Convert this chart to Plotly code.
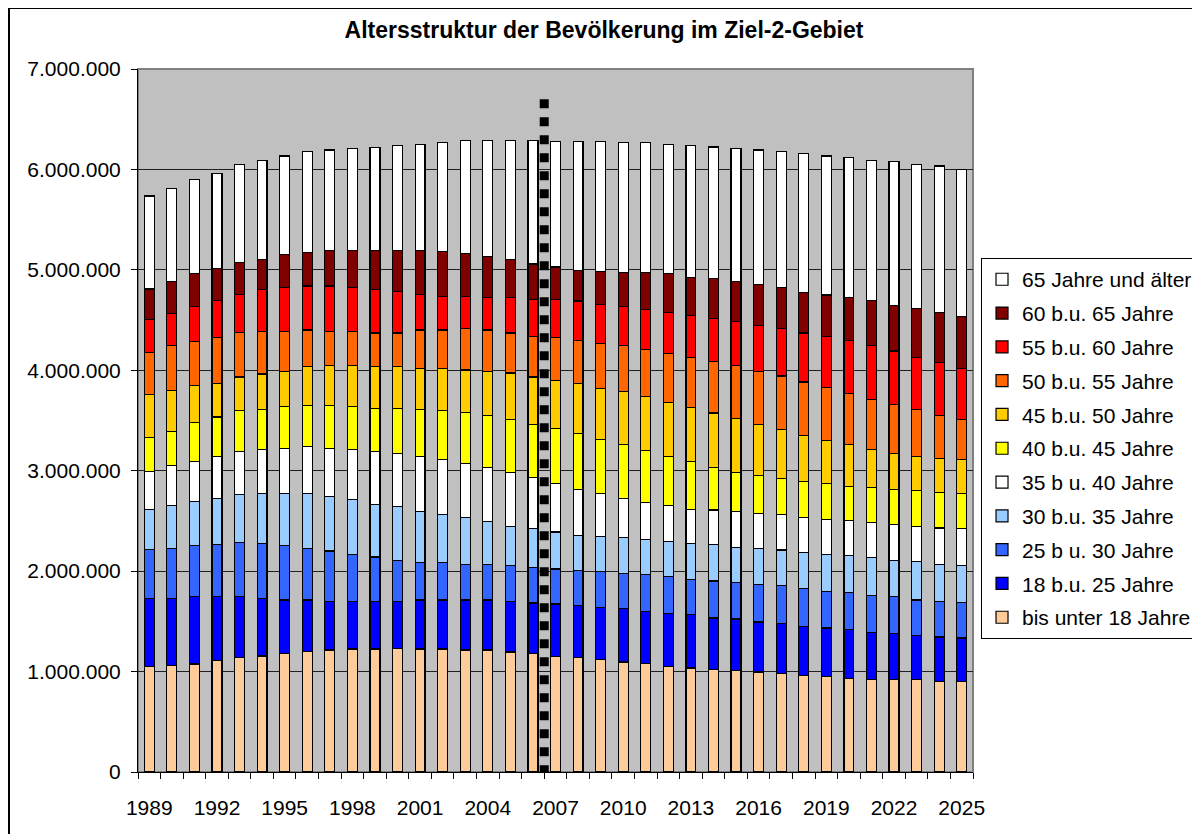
import plotly.graph_objects as go

# ---- data (values in thousands of persons) ----
years = list(range(1989, 2026))
tick_years = [1989, 1992, 1995, 1998, 2001, 2004, 2007, 2010, 2013, 2016, 2019, 2022, 2025]

under_18 = [1048, 1061, 1075, 1108, 1138, 1155, 1177, 1197, 1214, 1224, 1224, 1227, 1224,
            1224, 1214, 1214, 1194, 1177, 1151, 1138, 1124, 1095, 1078, 1051, 1035, 1018,
            1008, 995, 978, 961, 949, 932, 919, 919, 919, 902, 902]
age_18_25 = [677, 664, 670, 637, 607, 570, 535, 515, 484, 474, 474, 471, 488,
             488, 498, 498, 504, 505, 521, 516, 514, 530, 517, 531, 532, 515,
             515, 498, 501, 485, 484, 488, 470, 458, 441, 442, 432]
age_25_30 = [488, 501, 507, 524, 537, 547, 543, 514, 502, 465, 442, 412, 371,
             371, 351, 351, 355, 354, 349, 353, 356, 349, 369, 365, 347, 368,
             364, 378, 382, 381, 364, 364, 369, 368, 352, 354, 351]
age_30_35 = [398, 425, 445, 458, 485, 498, 515, 544, 543, 547, 527, 531, 511,
             481, 471, 428, 392, 386, 368, 348, 351, 358, 348, 352, 364, 368,
             352, 355, 349, 356, 369, 369, 378, 365, 381, 365, 368]
age_35_40 = [381, 398, 395, 411, 428, 441, 455, 471, 482, 501, 521, 530, 547,
             544, 541, 541, 534, 514, 487, 458, 425, 395, 371, 355, 339, 339,
             352, 348, 351, 355, 352, 348, 349, 351, 352, 366, 369]
age_40_45 = [342, 338, 388, 396, 401, 395, 411, 412, 428, 425, 434, 451, 465,
             488, 504, 517, 528, 526, 542, 561, 544, 534, 518, 484, 475, 424,
             395, 375, 358, 351, 355, 342, 344, 352, 358, 354, 348]
age_45_50 = [421, 408, 365, 338, 338, 358, 351, 384, 397, 414, 415, 415, 411,
             421, 424, 438, 467, 472, 480, 498, 508, 524, 537, 545, 537, 543,
             533, 514, 488, 458, 427, 415, 382, 355, 335, 338, 338]
age_50_55 = [425, 448, 438, 458, 441, 421, 398, 364, 335, 335, 335, 335, 384,
             384, 412, 414, 398, 406, 432, 425, 445, 458, 472, 481, 499, 509,
             531, 524, 537, 537, 526, 507, 499, 493, 471, 428, 399]
age_55_60 = [322, 319, 351, 361, 383, 418, 438, 439, 455, 438, 431, 414, 352,
             336, 322, 322, 351, 366, 376, 392, 387, 391, 398, 414, 416, 434,
             437, 460, 471, 488, 514, 532, 533, 532, 519, 528, 510]
age_60_65 = [308, 321, 326, 325, 318, 300, 326, 336, 351, 368, 388, 405, 438,
             442, 429, 413, 383, 353, 323, 308, 333, 339, 365, 382, 383, 399,
             400, 410, 412, 406, 409, 426, 450, 455, 490, 501, 518]
age_65_plus = [926, 930, 942, 942, 972, 988, 985, 1001, 1002, 1016, 1030, 1046, 1060,
               1092, 1125, 1155, 1185, 1232, 1251, 1283, 1293, 1294, 1294, 1291, 1310, 1307,
               1320, 1336, 1353, 1384, 1385, 1398, 1398, 1430, 1430, 1457, 1467]

series_names = ["bis unter 18 Jahre", "18 b.u. 25 Jahre", "25 b u. 30 Jahre",
                "30 b.u. 35 Jahre", "35 b u. 40 Jahre", "40 b.u. 45 Jahre",
                "45 b.u. 50 Jahre", "50 b.u. 55 Jahre", "55 b.u. 60 Jahre",
                "60 b.u. 65 Jahre", "65 Jahre und älter"]
series_values = [under_18, age_18_25, age_25_30, age_30_35, age_35_40, age_40_45,
                 age_45_50, age_50_55, age_55_60, age_60_65, age_65_plus]
series_colors = ["#FFCC99", "#0000FF", "#3366FF", "#99CCFF", "#FFFFFF", "#FFFF00",
                 "#FFCC00", "#FF6600", "#FF0000", "#800000", "#FFFFFF"]

forecast_from_year = 2007
forecast_line_top = 6_700_000

FONT = "Liberation Sans, Arial, sans-serif"
FS = 21
W, H = 1192, 826  # page adds an 8px body margin

fig = go.Figure()
n = len(series_names)
for i, (name, vals, col) in enumerate(zip(series_names, series_values, series_colors)):
    fig.add_trace(go.Bar(
        x=years, y=[v * 1000 for v in vals], name=name, legendgroup=name,
        legendrank=n - i,
        marker=dict(color=col, line=dict(color="#000000", width=1.2)),
        width=0.44,
    ))

# plot-area border (grey, Excel style)
fig.add_shape(type="rect", xref="paper", yref="paper", x0=0, x1=1, y0=0, y1=1,
              line=dict(color="#808080", width=2), layer="below")
# outer chart frame
fig.add_shape(type="rect", xref="paper", yref="paper",
              x0=-0.1545, x1=1.30, y0=-0.12, y1=1.0868,
              line=dict(color="#000000", width=2), fillcolor="rgba(0,0,0,0)")
# forecast divider
fig.add_shape(type="line", xref="x", yref="y",
              x0=forecast_from_year - 0.5, x1=forecast_from_year - 0.5,
              y0=forecast_line_top, y1=0,
              line=dict(color="#000000", width=9, dash="9px,9px"), layer="above")

fig.update_layout(
    width=W, height=H,
    margin=dict(l=130, r=227, t=61, b=62, autoexpand=False),
    paper_bgcolor="#FFFFFF", plot_bgcolor="#C0C0C0",
    barmode="stack", bargap=0.56,
    separators=",.",
    font=dict(family=FONT, size=FS, color="#000000"),
    title=dict(text="<b>Altersstruktur der Bevölkerung im Ziel-2-Gebiet</b>",
               x=0.5, xref="container", xanchor="center",
               y=1 - 22 / H, yref="container", yanchor="middle",
               font=dict(family=FONT, size=23, color="#000000")),
    legend=dict(x=1.0096, xanchor="left", y=0.731, yanchor="top",
                traceorder="grouped", tracegroupgap=3.5,
                bordercolor="#000000", borderwidth=1, bgcolor="#FFFFFF",
                font=dict(family=FONT, size=FS, color="#000000")),
    showlegend=True,
)
fig.update_xaxes(
    range=[1988.5, 2025.5], tickmode="array", tickvals=tick_years,
    ticktext=[str(y) for y in tick_years], ticks="", ticklabelstandoff=17,
    showline=True, linecolor="#000000", linewidth=1, showgrid=False, zeroline=False,
    automargin=False,
    minor=dict(tickmode="linear", tick0=1988.5, dtick=1, ticks="outside", ticklen=6,
               tickcolor="#000000", showgrid=False),
    tickfont=dict(family=FONT, size=FS, color="#000000"),
)
fig.update_yaxes(
    range=[0, 7_000_000], dtick=1_000_000, tickformat=",d",
    ticks="outside", ticklen=6, tickcolor="#000000", ticklabelstandoff=6,
    showline=True, linecolor="#000000", linewidth=1, automargin=False,
    showgrid=True, gridcolor="#202020", gridwidth=1, zeroline=False,
    tickfont=dict(family=FONT, size=FS, color="#000000"),
)

fig.write_html("out.html")
